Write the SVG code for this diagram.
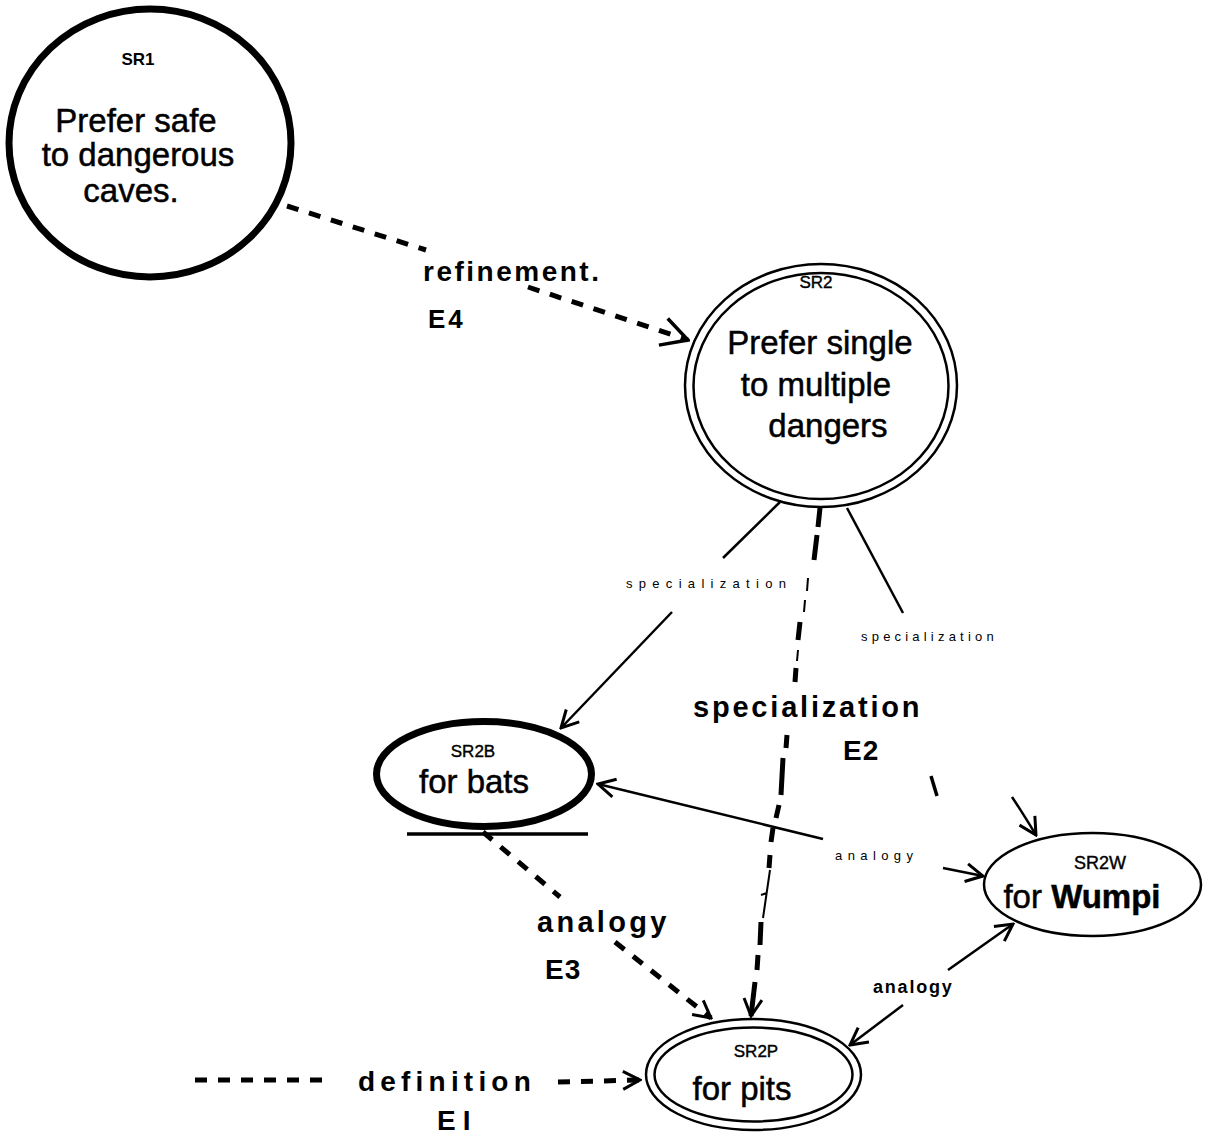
<svg xmlns="http://www.w3.org/2000/svg" width="1205" height="1134" viewBox="0 0 1205 1134">
<style>
  .node { fill: none; stroke: #000; }
  .thick { stroke-width: 7; }
  .thin { stroke-width: 2.5; }
  .id { font-family: "Liberation Sans", Arial, sans-serif; font-size: 17px; text-anchor: middle; fill: #000; stroke: #000; stroke-width: 0.4; }
  .body { font-family: "Liberation Sans", Arial, sans-serif; font-size: 33px; text-anchor: middle; fill: #000; stroke: #000; stroke-width: 0.5; }
  .lbl { font-family: "Liberation Sans", Arial, sans-serif; font-weight: bold; font-size: 28px; fill: #000; }
  .sm { font-family: "Liberation Sans", Arial, sans-serif; font-size: 13px; fill: #000; }
  .dash { fill: none; stroke: #000; stroke-width: 5; stroke-dasharray: 12 11; }
  .solid { fill: none; stroke: #000; stroke-width: 2.5; }
  .tick { fill: none; stroke: #000; stroke-width: 2; }
  .seg { fill: none; stroke: #000; stroke-width: 5; }
</style>
<defs>
  <marker id="arr" viewBox="0 0 22 22" refX="20" refY="11" markerWidth="22" markerHeight="22" markerUnits="userSpaceOnUse" orient="auto-start-reverse">
    <path d="M3,2 L20,11 L3,20" fill="none" stroke="#000" stroke-width="3"/>
  </marker>
  <marker id="arrL" viewBox="0 0 32 32" refX="30" refY="16" markerWidth="32" markerHeight="32" markerUnits="userSpaceOnUse" orient="auto">
    <path d="M4,2 L30,16 L4,30" fill="none" stroke="#000" stroke-width="3.5"/>
  </marker>
</defs>
<rect x="0" y="0" width="1205" height="1134" fill="#fff"/>

<g id="connectors">
  <!-- E4 refinement -->
  <path class="dash" d="M287,206 L426,250"/>
  <path class="dash" d="M528,287 L688,340" marker-end="url(#arrL)"/>
  <!-- SR2 -> SR2B specialization -->
  <path class="solid" d="M780,502 L723,558"/>
  <path class="solid" d="M672,612 L561,728" marker-end="url(#arr)"/>
  <!-- SR2 -> SR2W specialization -->
  <path class="solid" d="M847,508 L903,613"/>
  <path class="solid" style="stroke-width:3.5" d="M931,776 L937,796"/>
  <path class="solid" d="M1012,797 Q1022,812 1036,835" marker-end="url(#arr)"/>
  <!-- SR2 -> SR2P specialization E2 -->
  <path class="seg" d="M820,508 L818,527 M817,535 L814,560 M800,622 L798,640 M796,668 L795,682 M787,735 L786,748 M783,758 L781,795 M779,805 L776,818 M773,828 L771,842 M770,855 L769,868 M761,922 L760,945 M758,955 L757,970"/>
  <path class="tick" d="M808,578 L807,591 M805,600 L804,612 M798,650 L797,661 M770,870 L763,918 M761,895 L767,893"/>
  <path class="seg" d="M755,982 L751,1016" marker-end="url(#arr)"/>
  <!-- SR2B <-> SR2W analogy -->
  <path class="solid" d="M598,784 L823,839" marker-start="url(#arr)"/>
  <path class="solid" d="M943,868 L983,876" marker-end="url(#arr)"/>
  <!-- SR2B -> SR2P analogy E3 -->
  <path class="dash" d="M483,832 L560,897"/>
  <path class="dash" d="M615,942 L711,1018" marker-end="url(#arr)"/>
  <!-- SR2W <-> SR2P analogy -->
  <path class="solid" d="M1013,924 L948,970" marker-start="url(#arr)"/>
  <path class="solid" d="M903,1005 L850,1045" marker-end="url(#arr)"/>
  <!-- E1 definition -->
  <path class="dash" d="M195,1080 L332,1080"/>
  <path class="dash" d="M558,1082 L640,1080" marker-end="url(#arr)"/>

  <text class="lbl" x="423" y="281" style="letter-spacing:2.5px">refinement.</text>
  <text class="lbl" x="428" y="328" style="font-size:26px;letter-spacing:3px">E4</text>
  <text class="sm" x="626" y="588" style="letter-spacing:6.3px">specialization</text>
  <text class="sm" x="861" y="641" style="letter-spacing:4.2px">specialization</text>
  <text class="lbl" x="693" y="717" style="font-size:29px;letter-spacing:2.8px">specialization</text>
  <text class="lbl" x="843" y="760" style="letter-spacing:1px">E2</text>
  <text class="sm" x="835" y="860" style="letter-spacing:5.4px">analogy</text>
  <text class="lbl" x="537" y="932" style="font-size:29px;letter-spacing:3.3px">analogy</text>
  <text class="lbl" x="545" y="979" style="letter-spacing:1px">E3</text>
  <text class="lbl" x="873" y="993" style="font-size:18px;letter-spacing:1.8px">analogy</text>
  <text class="lbl" x="358" y="1091" style="letter-spacing:5.2px">definition</text>
  <text class="lbl" x="437" y="1130" style="letter-spacing:7px">EI</text>
</g>

<g id="SR1">
  <ellipse class="node thick" cx="150" cy="143" rx="141" ry="134"/>
  <text class="id" x="138" y="65" style="font-weight:bold;stroke-width:0">SR1</text>
  <text class="body" x="136" y="132">Prefer safe</text>
  <text class="body" x="138" y="166">to dangerous</text>
  <text class="body" x="131" y="202">caves.</text>
</g>

<g id="SR2">
  <ellipse class="node thin" cx="821" cy="385.5" rx="136" ry="121.5"/>
  <ellipse class="node thin" cx="821" cy="386" rx="127.5" ry="113"/>
  <text class="id" x="816" y="288">SR2</text>
  <text class="body" x="820" y="354">Prefer single</text>
  <text class="body" x="816" y="396">to multiple</text>
  <text class="body" x="828" y="437">dangers</text>
</g>

<g id="SR2B">
  <ellipse class="node thick" cx="484" cy="774" rx="107.5" ry="52.5"/>
  <path class="solid" style="stroke-width:3.5" d="M407,834 L588,834"/>
  <text class="id" x="473" y="757">SR2B</text>
  <text class="body" x="474" y="793">for bats</text>
</g>

<g id="SR2W">
  <ellipse class="node thin" cx="1092.5" cy="884.5" rx="108.5" ry="51.5"/>
  <text class="id" x="1100" y="869" style="font-size:18px">SR2W</text>
  <text class="body" x="1082" y="908">for <tspan font-weight="bold">Wumpi</tspan></text>
</g>

<g id="SR2P">
  <ellipse class="node thin" cx="753.5" cy="1074.5" rx="107.5" ry="55.5"/>
  <ellipse class="node thin" cx="753.5" cy="1074.5" rx="99" ry="47"/>
  <text class="id" x="756" y="1057">SR2P</text>
  <text class="body" x="742" y="1100">for pits</text>
</g>
</svg>
